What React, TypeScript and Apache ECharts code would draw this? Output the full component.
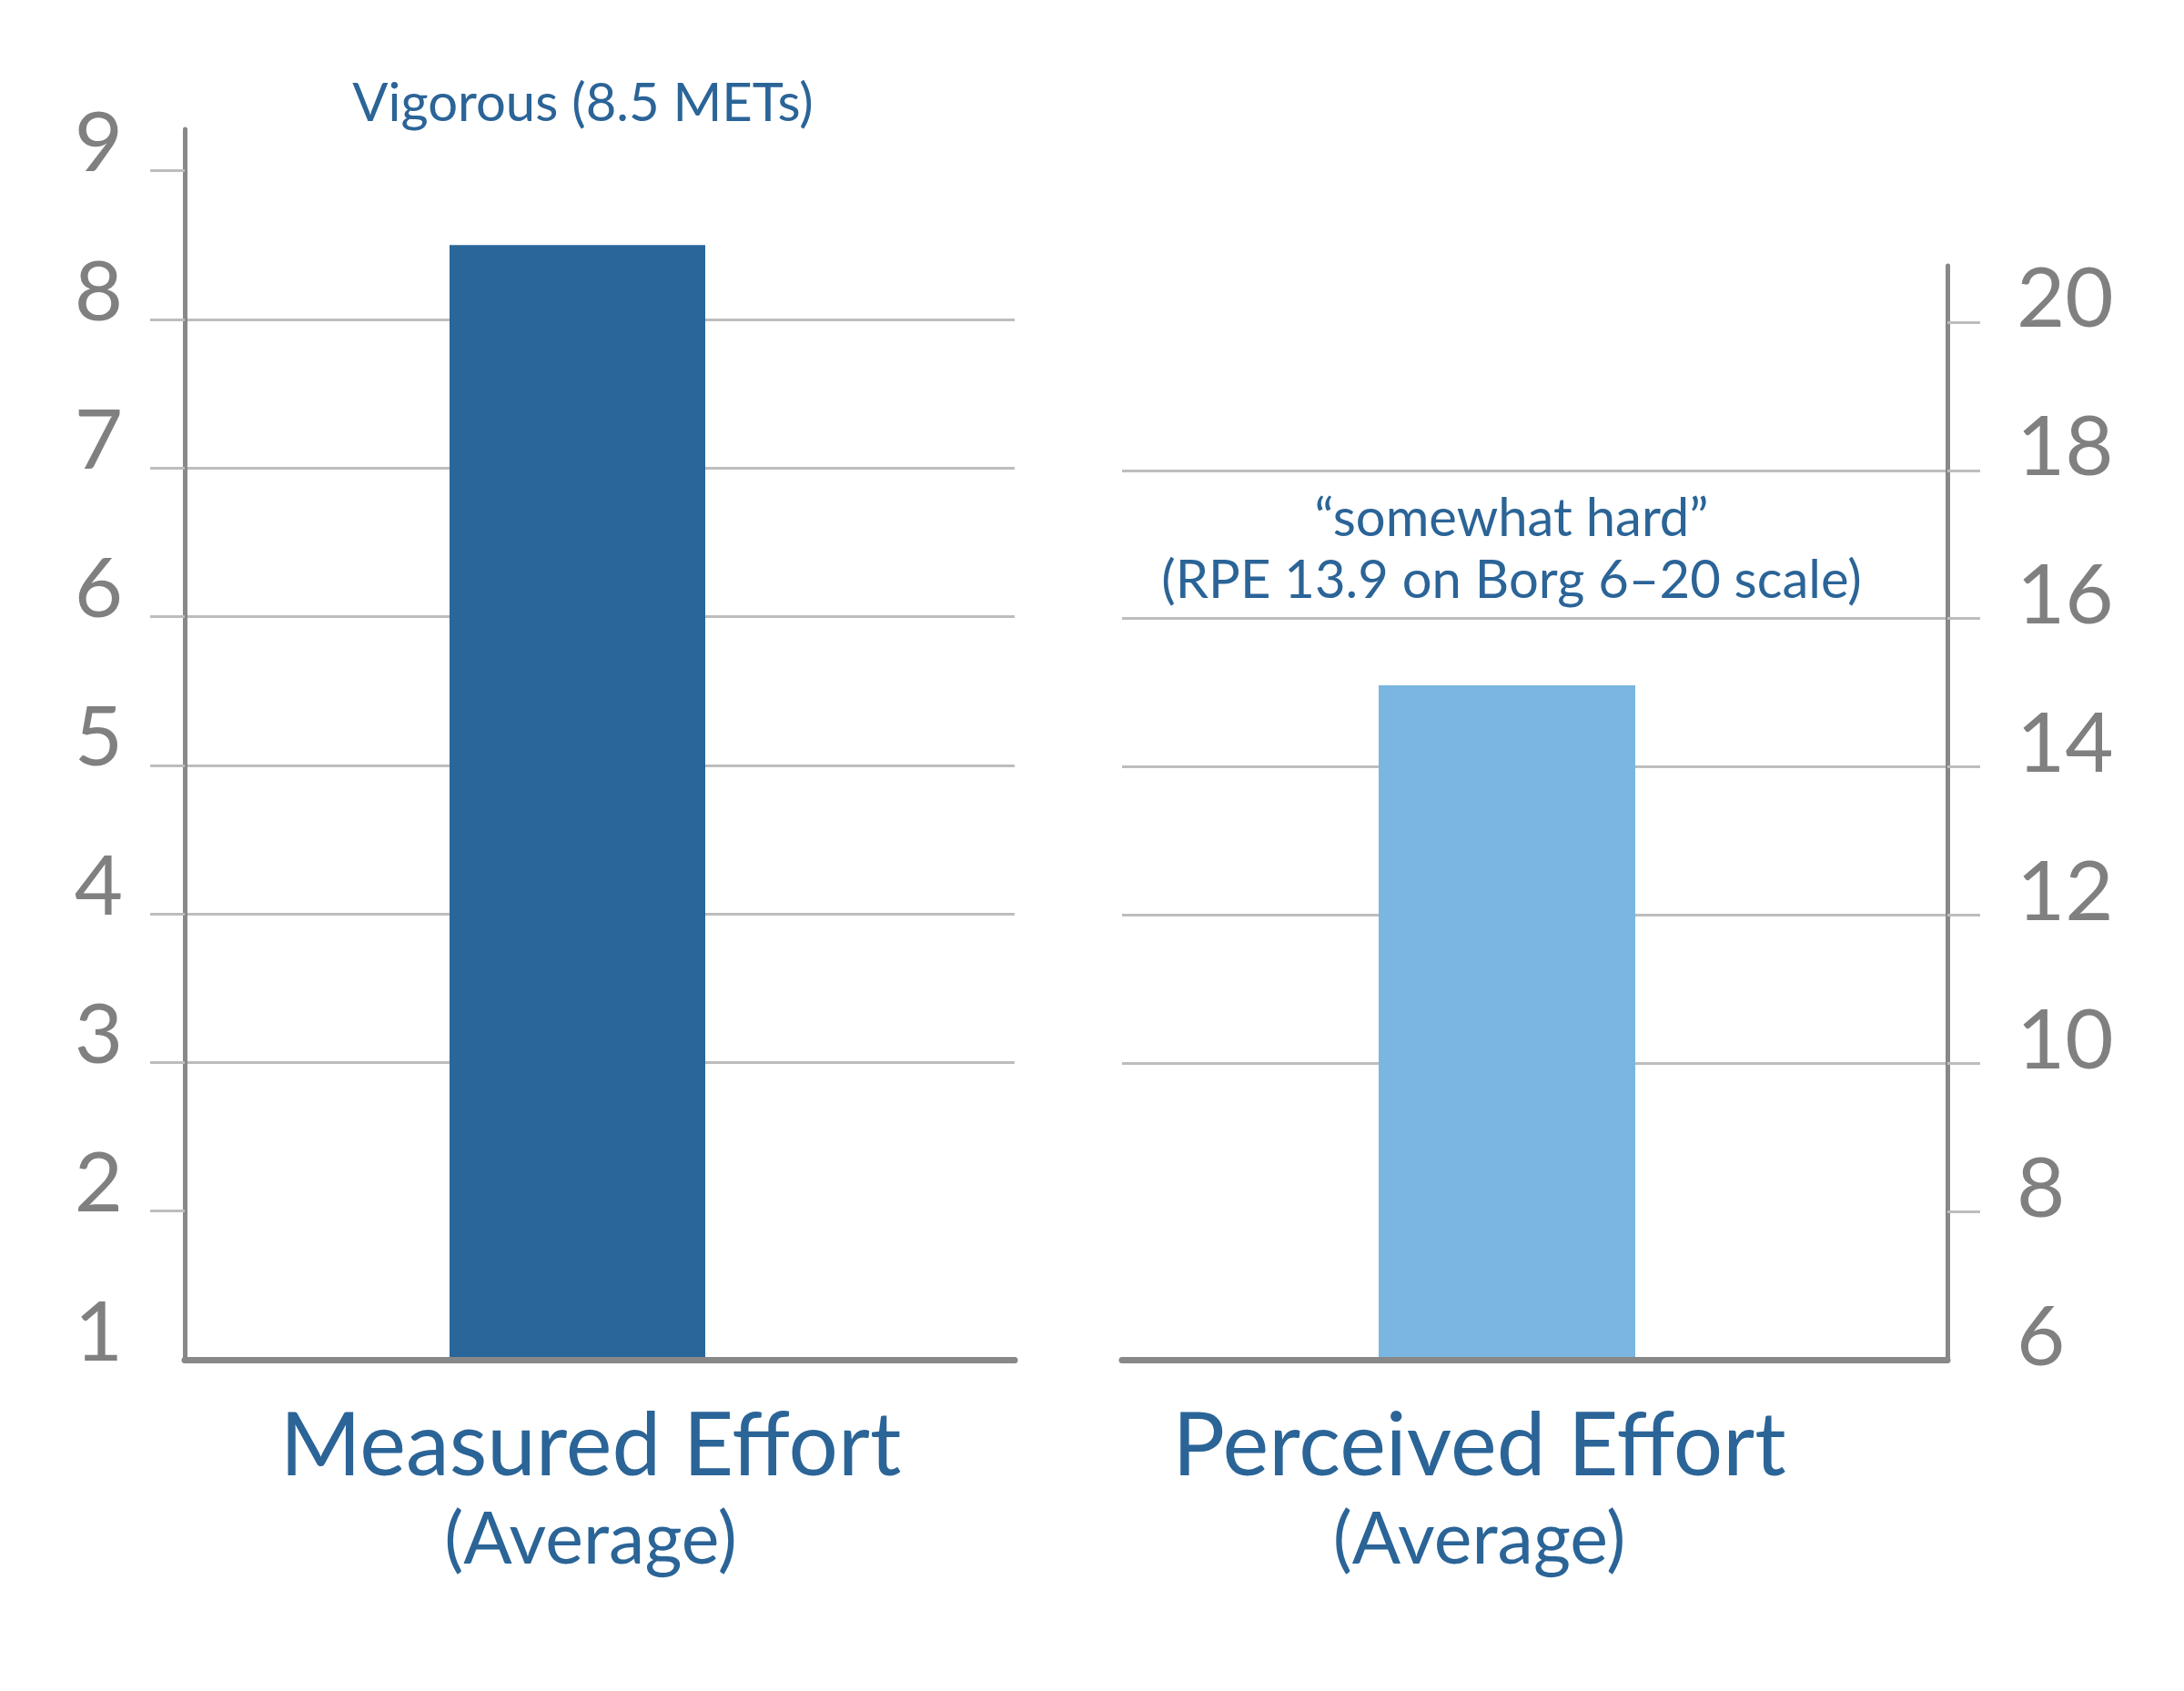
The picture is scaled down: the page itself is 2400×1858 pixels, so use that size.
import React, { useEffect, useRef } from 'react';
import * as echarts from 'echarts';

const categoriesLeft = ['Measured Effort'];
const categoriesRight = ['Perceived Effort'];
const categorySub = '(Average)';
const measuredMETs = [8.5];
const perceivedRPE = [15.1];
const leftTicks = [1, 2, 3, 4, 5, 6, 7, 8, 9];
const rightTicks = [6, 8, 10, 12, 14, 16, 18, 20];
const leftNote = ['Vigorous (8.5 METs)'];
const rightNote = ['\u201csomewhat hard\u201d', '(RPE 13.9 on Borg 6\u201320 scale)'];
const emptySlot = [null];

const FONT = 'Lato';
const BLUE_TEXT = '#2b6497';
const AXIS_GRAY = '#888888';
const GRID_GRAY = '#bdbdbd';
const LABEL_GRAY = '#808080';

export default function App() {
  const ref = useRef<HTMLDivElement>(null);
  useEffect(() => {
    if (!ref.current) return;
    const chart = echarts.init(ref.current, null, { renderer: 'svg' });
    const xLabel = (padRight: number) => ({
      interval: 0,
      margin: 32,
      padding: [0, padRight, 0, 0],
      formatter: (v: string) => `{a|${v}}\n{b|${categorySub}}`,
      rich: {
        a: { fontSize: 96, lineHeight: 114, color: BLUE_TEXT, fontFamily: FONT },
        b: { fontSize: 79, lineHeight: 94, color: BLUE_TEXT, fontFamily: FONT },
      },
    });
    const yCommon = (pos: 'left' | 'right', ticks: number[], margin: number, tickLen: number, lh: number) => ({
      type: 'value',
      position: pos,
      axisLine: { show: true, lineStyle: { color: AXIS_GRAY, width: 5 } },
      axisTick: {
        show: true,
        inside: false,
        length: tickLen,
        lineStyle: { color: GRID_GRAY, width: 3 },
        customValues: ticks.slice(1),
      },
      splitLine: {
        show: true,
        showMinLine: false,
        showMaxLine: false,
        lineStyle: { color: GRID_GRAY, width: 3 },
      },
      axisLabel: {
        customValues: ticks,
        margin,
        fontSize: 92,
        color: LABEL_GRAY,
        fontFamily: FONT,
        verticalAlign: 'bottom',
        lineHeight: lh,
      },
    });
    const spacer = (idx: number, w: number) => ({
      type: 'bar',
      xAxisIndex: idx,
      yAxisIndex: idx,
      data: emptySlot,
      barWidth: w,
      barGap: '0%',
      silent: true,
      itemStyle: { color: 'rgba(0,0,0,0)' },
    });
    chart.setOption({
      animation: false,
      backgroundColor: '#ffffff',
      grid: [
        { left: 203, top: 142, width: 912, height: 1352 },
        { left: 1233, top: 292, width: 907, height: 1202 },
      ],
      xAxis: [
        {
          type: 'category',
          gridIndex: 0,
          data: categoriesLeft,
          z: 5,
          axisLine: { lineStyle: { color: AXIS_GRAY, width: 7 } },
          axisTick: { show: false },
          axisLabel: xLabel(20),
        },
        {
          type: 'category',
          gridIndex: 1,
          data: categoriesRight,
          z: 5,
          axisLine: { lineStyle: { color: AXIS_GRAY, width: 7 } },
          axisTick: { show: false },
          axisLabel: xLabel(122),
        },
      ],
      yAxis: [
        { ...yCommon('left', leftTicks, 68, 38, 70), gridIndex: 0, min: 1, max: 9.28, interval: 1 },
        { ...yCommon('right', rightTicks, 76, 36, 60), gridIndex: 1, min: 6, max: 20.76, interval: 2 },
      ],
      series: [
        {
          type: 'bar',
          xAxisIndex: 0,
          yAxisIndex: 0,
          data: measuredMETs,
          barWidth: 281,
          barGap: '0%',
          clip: true,
          itemStyle: { color: '#2a6699' },
          label: {
            show: true,
            position: 'top',
            distance: 129,
            offset: [6, 0],
            formatter: () => leftNote.join('\n'),
            color: BLUE_TEXT,
            fontSize: 58,
            lineHeight: 60,
            fontFamily: FONT,
          },
        },
        spacer(0, 49),
        {
          type: 'bar',
          xAxisIndex: 1,
          yAxisIndex: 1,
          data: perceivedRPE,
          barWidth: 282,
          barGap: '0%',
          clip: true,
          itemStyle: { color: '#7ab6e0' },
          label: {
            show: true,
            position: 'top',
            distance: 84,
            offset: [5, 0],
            formatter: () => rightNote.join('\n'),
            color: BLUE_TEXT,
            fontSize: 58,
            lineHeight: 68,
            fontFamily: FONT,
            align: 'center',
          },
        },
        spacer(1, 61),
      ],
    });
    return () => chart.dispose();
  }, []);
  return (
    <div
      ref={ref}
      style={{ position: 'fixed', left: 0, top: 0, width: 2400, height: 1858, background: '#fff' }}
    />
  );
}
